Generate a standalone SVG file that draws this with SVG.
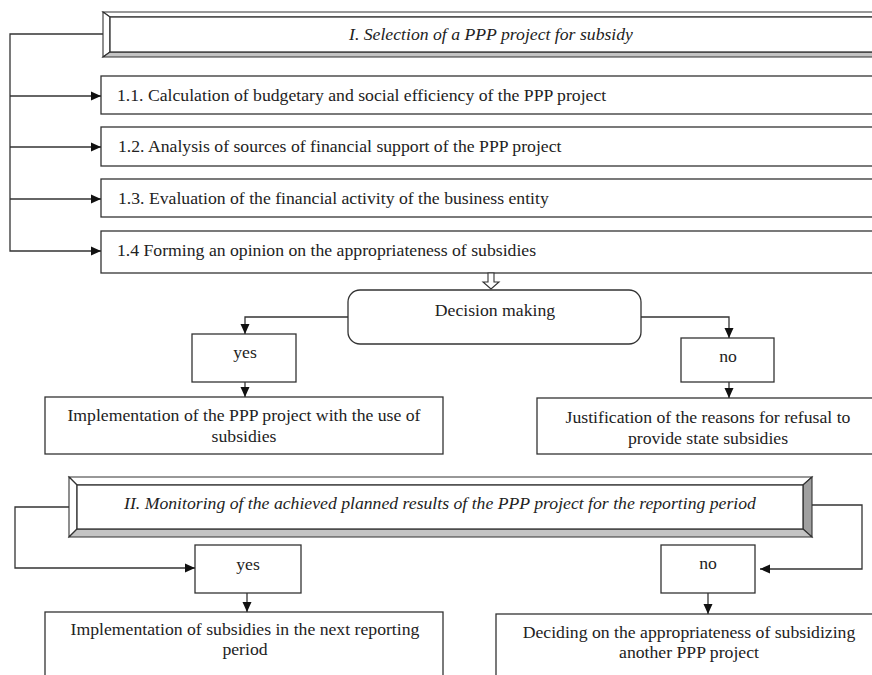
<svg xmlns="http://www.w3.org/2000/svg" width="872" height="675" viewBox="0 0 872 675">
<style>
  .box { fill: #ffffff; stroke: #333333; stroke-width: 1.3; }
  .ln { fill: none; stroke: #333333; stroke-width: 1.3; }
  .t { font-family: "Liberation Serif", "Times New Roman", serif; font-size: 17.7px; fill: #222222; }
  .c { text-anchor: middle; }
  .i { font-style: italic; }
  .lt { fill: #ffffff; stroke: #333333; stroke-width: 1.1; }
  .dk { fill: #a0a0a0; stroke: #333333; stroke-width: 1.1; }
  .md { fill: #c4c4c4; stroke: #333333; stroke-width: 1.1; }
</style>
<defs>
  <marker id="ah" viewBox="0 0 10 10" refX="10" refY="5" markerWidth="10" markerHeight="10" markerUnits="userSpaceOnUse" orient="auto">
    <path d="M0,0.5 L10,5 L0,9.5 Z" fill="#111111"/>
  </marker>
</defs>
<rect width="872" height="675" fill="#ffffff"/>

<g id="stage1">
  <polygon class="lt" points="103,12 880,12 880,17 110,17"/>
  <polygon class="lt" points="103,12 110,17 110,52 103,57"/>
  <polygon class="md" points="103,57 110,52 880,52 880,57"/>
  <rect class="box" x="110" y="17" width="770" height="35"/>
  <text class="t i c" x="491" y="40">I. Selection of a PPP project for subsidy</text>
</g>

<g id="step11">
  <rect class="box" x="101" y="76" width="780" height="38"/>
  <text class="t" x="117" y="101">1.1. Calculation of budgetary and social efficiency of the PPP project</text>
</g>
<g id="step12">
  <rect class="box" x="101" y="127" width="780" height="39"/>
  <text class="t" x="118" y="152">1.2. Analysis of sources of financial support of the PPP project</text>
</g>
<g id="step13">
  <rect class="box" x="101" y="179" width="780" height="38"/>
  <text class="t" x="118" y="204">1.3. Evaluation of the financial activity of the business entity</text>
</g>
<g id="step14">
  <rect class="box" x="101" y="231" width="780" height="42"/>
  <text class="t" x="117" y="256">1.4 Forming an opinion on the appropriateness of subsidies</text>
</g>

<g id="decision">
  <rect class="box" x="348" y="290" width="293" height="54" rx="12" ry="12"/>
  <text class="t c" x="495" y="316">Decision making</text>
</g>

<g id="yes1">
  <rect class="box" x="192" y="334" width="104" height="48"/>
  <text class="t c" x="245" y="358">yes</text>
</g>
<g id="no1">
  <rect class="box" x="681" y="338" width="93" height="44"/>
  <text class="t c" x="728" y="362">no</text>
</g>

<g id="impl1">
  <rect class="box" x="45" y="397" width="398" height="57"/>
  <text class="t c" x="244" y="421">Implementation of the PPP project with the use of</text>
  <text class="t c" x="244" y="442">subsidies</text>
</g>
<g id="justif">
  <rect class="box" x="537" y="398" width="345" height="56"/>
  <text class="t c" x="708" y="423">Justification of the reasons for refusal to</text>
  <text class="t c" x="708" y="444">provide state subsidies</text>
</g>

<g id="stage2">
  <polygon class="lt" points="69,477 812,477 803,485 77,485"/>
  <polygon class="lt" points="69,477 77,485 77,529 69,537"/>
  <polygon class="dk" points="812,477 812,537 803,529 803,485"/>
  <polygon class="md" points="69,537 77,529 803,529 812,537"/>
  <rect class="box" x="77" y="485" width="726" height="44"/>
  <text class="t i c" x="440" y="509">II. Monitoring of the achieved planned results of the PPP project for the reporting period</text>
</g>

<g id="yes2">
  <rect class="box" x="195" y="545" width="106" height="48"/>
  <text class="t c" x="248" y="570">yes</text>
</g>
<g id="no2">
  <rect class="box" x="661" y="545" width="94" height="48"/>
  <text class="t c" x="708" y="569">no</text>
</g>

<g id="impl2">
  <rect class="box" x="45" y="612" width="398" height="80"/>
  <text class="t c" x="245" y="635">Implementation of subsidies in the next reporting</text>
  <text class="t c" x="245" y="655">period</text>
</g>
<g id="deciding">
  <rect class="box" x="496" y="614" width="386" height="80"/>
  <text class="t c" x="689" y="638">Deciding on the appropriateness of subsidizing</text>
  <text class="t c" x="689" y="658">another PPP project</text>
</g>

<g id="connectors">
  <polyline class="ln" points="103,34 10,34 10,251 101,251" marker-end="url(#ah)"/>
  <line class="ln" x1="10" y1="96" x2="101" y2="96" marker-end="url(#ah)"/>
  <line class="ln" x1="10" y1="147" x2="101" y2="147" marker-end="url(#ah)"/>
  <line class="ln" x1="10" y1="199" x2="101" y2="199" marker-end="url(#ah)"/>
  <path d="M488,273 L494,273 L494,282 L499,282 L491,289 L483,282 L488,282 Z" fill="#ffffff" stroke="#333333" stroke-width="1.1"/>
  <polyline class="ln" points="348,317 245,317 245,334" marker-end="url(#ah)"/>
  <polyline class="ln" points="641,317 729,317 729,338" marker-end="url(#ah)"/>
  <line class="ln" x1="245" y1="382" x2="245" y2="397" marker-end="url(#ah)"/>
  <line class="ln" x1="729" y1="382" x2="729" y2="398" marker-end="url(#ah)"/>
  <polyline class="ln" points="69,507 15,507 15,568 195,568" marker-end="url(#ah)"/>
  <polyline class="ln" points="812,505 862,505 862,569 760,569" marker-end="url(#ah)"/>
  <line class="ln" x1="247" y1="593" x2="247" y2="612" marker-end="url(#ah)"/>
  <line class="ln" x1="708" y1="593" x2="708" y2="614" marker-end="url(#ah)"/>
</g>
</svg>
